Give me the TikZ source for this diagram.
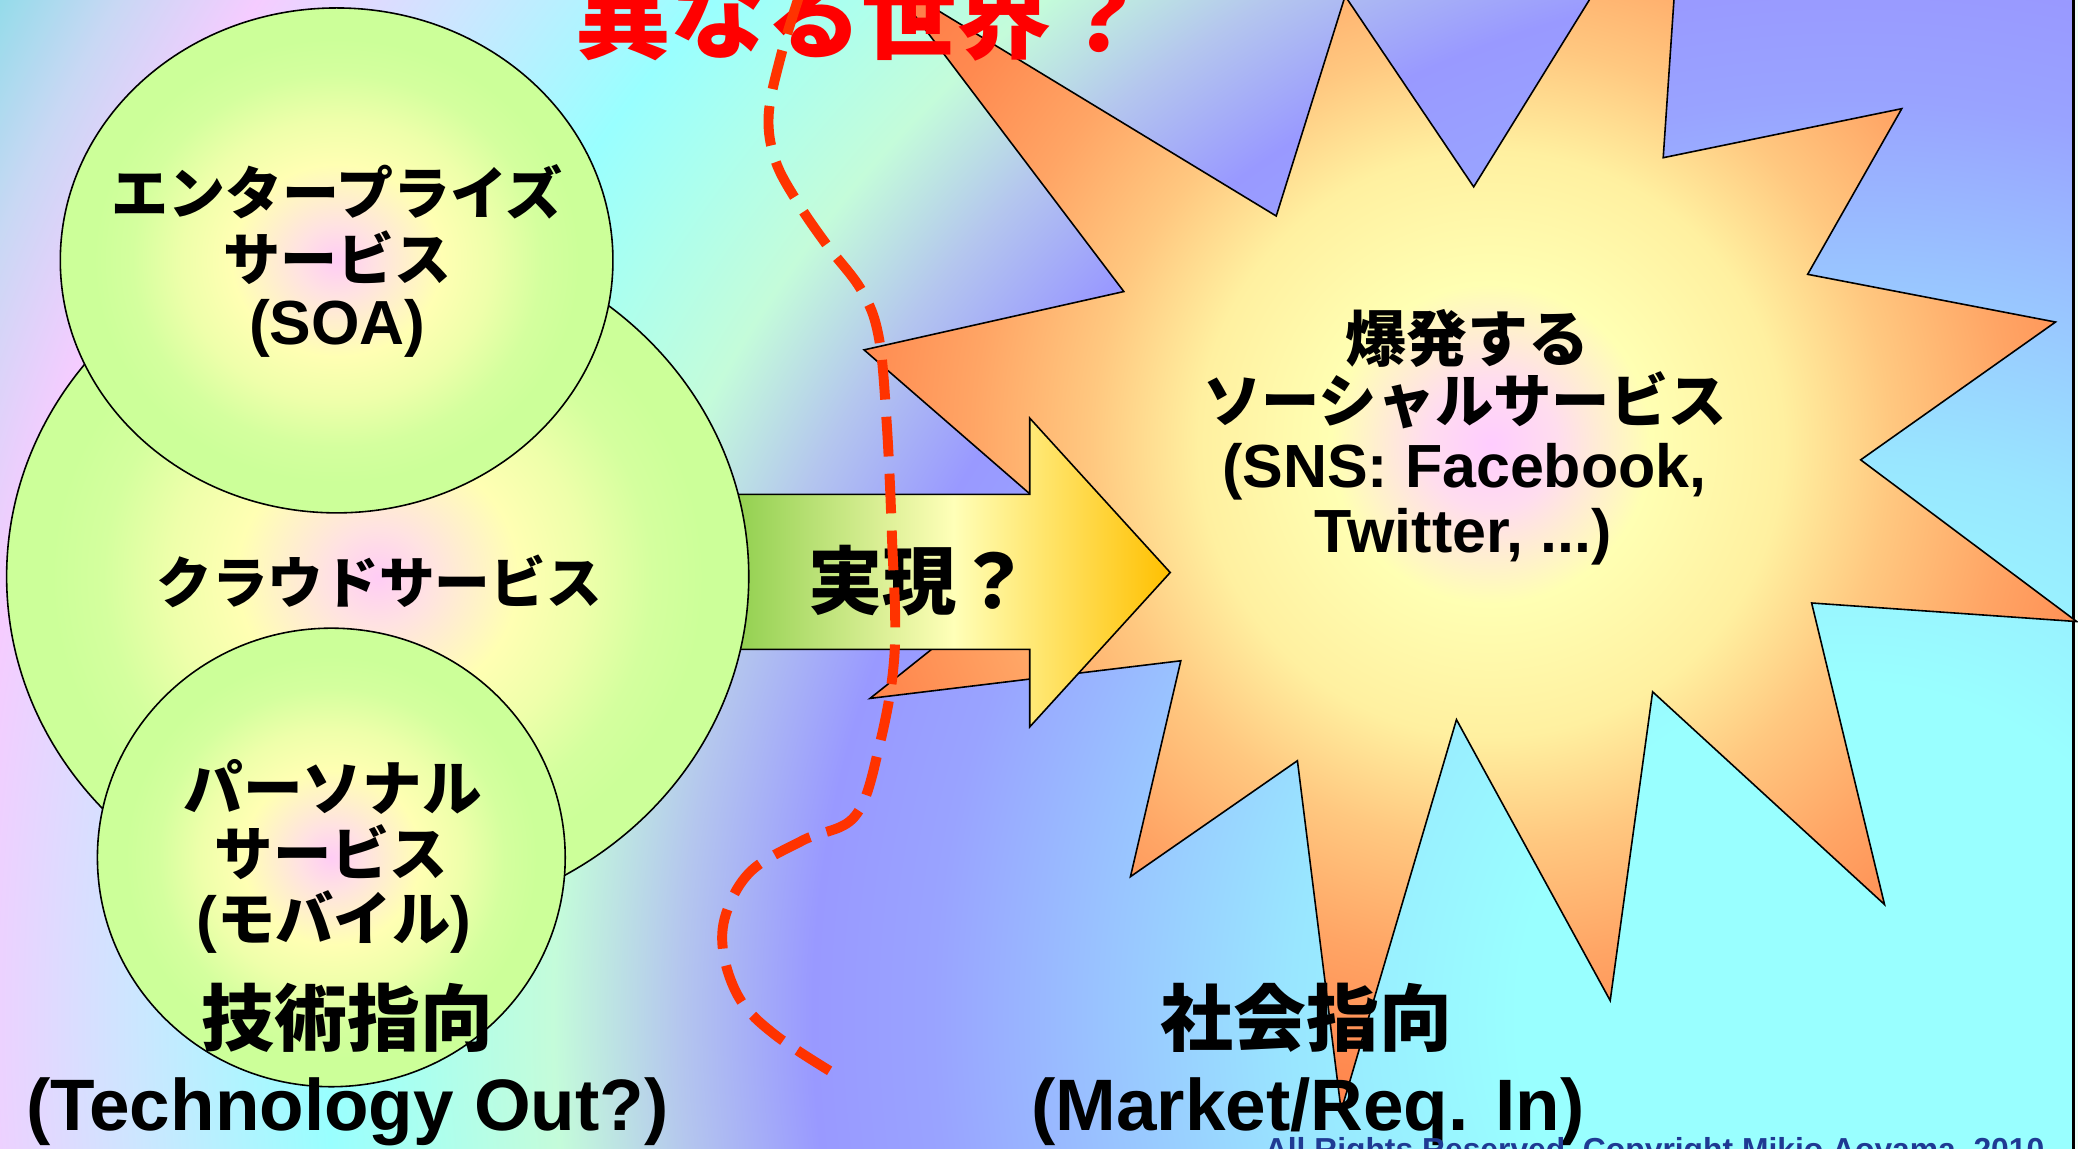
\documentclass[tikz,border=0pt]{standalone}
\usepackage{fontspec}
\setmainfont{Liberation Sans}
\newfontfamily\jp{Noto Sans CJK JP}

\definecolor{bgA}{HTML}{99FFFF}
\definecolor{bgB}{HTML}{99E6FF}
\definecolor{bgC}{HTML}{99C4FF}
\definecolor{bgD}{HTML}{99A3FF}
\definecolor{bgE}{HTML}{9999FF}
\definecolor{bgF}{HTML}{B4C6EE}
\definecolor{bgG}{HTML}{C4FCDA}
\definecolor{bgH}{HTML}{ACFFEE}
\definecolor{bgI}{HTML}{99FFFF}
\definecolor{bgJ}{HTML}{CCE6FF}
\definecolor{bgK}{HTML}{F5CCFF}
\definecolor{bgL}{HTML}{C8D8F4}
\definecolor{bgM}{HTML}{8CDCE8}

\definecolor{stA}{HTML}{FFCCFF}
\definecolor{stB}{HTML}{FFDDEE}
\definecolor{stC}{HTML}{FFFFB3}
\definecolor{stD}{HTML}{FFF0A0}
\definecolor{stE}{HTML}{FFC880}
\definecolor{stF}{HTML}{FFA565}
\definecolor{stG}{HTML}{FF8A50}
\definecolor{stH}{HTML}{FF7040}

\definecolor{elA}{HTML}{FFCCF5}
\definecolor{elB}{HTML}{FFE2E2}
\definecolor{elC}{HTML}{FFFFB3}
\definecolor{elD}{HTML}{EEFFAA}
\definecolor{elE}{HTML}{D4FF9E}
\definecolor{elF}{HTML}{CCFF99}

\definecolor{arG}{HTML}{92D050}
\definecolor{arY}{HTML}{FFFFB8}
\definecolor{arO}{HTML}{FFC000}
\definecolor{dashred}{HTML}{FF3300}
\definecolor{titlered}{HTML}{FF0000}
\definecolor{copyblue}{HTML}{1F3A93}
\definecolor{edgewhite}{HTML}{F2FFF8}

\pgfdeclareradialshading{bgshade}{\pgfpoint{0bp}{0bp}}{%
 color(0bp)=(bgA); color(250bp)=(bgA); color(420bp)=(bgB); color(560bp)=(bgC);
 color(690bp)=(bgD); color(780bp)=(bgE); color(880bp)=(bgF); color(975bp)=(bgG);
 color(1070bp)=(bgH); color(1147bp)=(bgI); color(1290bp)=(bgJ); color(1420bp)=(bgK);
 color(1510bp)=(bgL); color(1600bp)=(bgM)}

\pgfdeclareradialshading{starshade}{\pgfpoint{0bp}{0bp}}{%
 color(0bp)=(stA); color(50bp)=(stB); color(120bp)=(stC); color(220bp)=(stD);
 color(300bp)=(stE); color(390bp)=(stF); color(480bp)=(stG); color(620bp)=(stH)}

\pgfdeclareradialshading{ellshade}{\pgfpoint{0bp}{0bp}}{%
 color(0bp)=(elA); color(3.5bp)=(elB); color(9.5bp)=(elC); color(14bp)=(elD);
 color(18.5bp)=(elE); color(22bp)=(elF); color(50bp)=(elF)}

\newcommand\jpt[1]{{\jp\bfseries #1}}

\tikzset{
  starpath/.style={insert path={(652,264) -- (812,403) -- (656.5,527) -- (891,498.6)
    -- (853,661.5) -- (979,574) -- (1012,838) -- (1099,543) -- (1215,755)
    -- (1247,522) -- (1422,682.5) -- (1367,455) -- (1567,469) -- (1404,347)
    -- (1551,243) -- (1364,207) -- (1435,82) -- (1255,119) -- (1271,-116)
    -- (1112,141) -- (1015,-3) -- (963,163) -- (670,-15) -- (848,220) -- cycle}},
  outline/.style={draw=black, line width=1.2pt},
  ellipsebox/.style={shading=ellshade, outline},
  jlabel/.style={inner sep=0, anchor=base},
  redcurve/.style={draw=dashred, line width=7.5pt, dash pattern=on 30pt off 13pt}
}

\begin{document}
\begin{tikzpicture}[x=1pt, y=-1pt]
\useasboundingbox (0,0) rectangle (1568,867);
\clip (0,0) rectangle (1568,867);

% background
\node[inner sep=0, outer sep=0] (bg) at (1396,767) {\pgfuseshading{bgshade}};
\fill[edgewhite] (1564,0) rectangle (1568,867);
\draw[black, line width=2.5pt] (1564.5,0) -- (1564.5,867);

% explosion star
\begin{scope}
  \clip[starpath];
  \node[inner sep=0, outer sep=0] (starfill) at (1125,335) {\pgfuseshading{starshade}};
\end{scope}
\path[outline, starpath];

% arrow
\shadedraw[left color=arG, right color=arO, middle color=arY, outline]
  (556,373) -- (777,373) -- (777,315.5) -- (883,432) -- (777,548.5) -- (777,490) -- (556,490) -- cycle;

% ellipses
\shadedraw[ellipsebox] (285,435) ellipse [x radius=280, y radius=261];
\shadedraw[ellipsebox] (254,196.5) ellipse [x radius=208.5, y radius=190.5];
\shadedraw[ellipsebox] (250,647) ellipse [x radius=176.5, y radius=173];

% texts
\node[jlabel, text=titlered, font={\jp\bfseries\fontsize{72}{80}\selectfont}] (title) at (650,39) {異なる世界？};

\node[jlabel, font={\jp\bfseries\fontsize{43}{50}\selectfont}] (soa1) at (254.5,162) {エンタープライズ};
\node[jlabel, font={\jp\bfseries\fontsize{43}{50}\selectfont}] (soa2) at (254.5,211.5) {サービス};
\node[jlabel, font={\bfseries\fontsize{47}{50}\selectfont}] (soa3) at (254.5,260) {(SOA)};

\node[jlabel, font={\jp\bfseries\fontsize{42}{50}\selectfont}] (cloud) at (286,455.5) {クラウドサービス};

\node[jlabel, font={\jp\bfseries\fontsize{45}{50}\selectfont}] (per1) at (251,611.5) {パーソナル};
\node[jlabel, font={\jp\bfseries\fontsize{44}{50}\selectfont}] (per2) at (250,660.5) {サービス};
\node[jlabel, font={\bfseries\fontsize{47}{50}\selectfont}] (per3) at (252,710) {(\jpt{\fontsize{44}{50}\selectfont モバイル})};

\node[jlabel, font={\jp\bfseries\fontsize{55}{60}\selectfont}] (tech1) at (262,789) {技術指向};
\node[jlabel, font={\bfseries\fontsize{55}{60}\selectfont}] (tech2) at (262,853) {(Technology Out?)};

\node[jlabel, font={\jp\bfseries\fontsize{55}{60}\selectfont}] (soc1) at (986,789) {社会指向};
\node[jlabel, font={\bfseries\fontsize{55}{60}\selectfont}] (soc2) at (987,853) {(Market/Req. In)};

\node[jlabel, font={\jp\bfseries\fontsize{56}{60}\selectfont}] (arrowtext) at (694,459) {実現？};

\node[jlabel, font={\jp\bfseries\fontsize{46}{50}\selectfont}] (star1) at (1107,273) {爆発する};
\node[jlabel, font={\jp\bfseries\fontsize{44}{50}\selectfont}] (star2) at (1105.5,319) {ソーシャルサービス};
\node[jlabel, font={\bfseries\fontsize{46}{50}\selectfont}] (star3) at (1105,368) {(SNS: Facebook,};
\node[jlabel, font={\bfseries\fontsize{46}{50}\selectfont}] (star4) at (1104,417) {Twitter, ...)};

\node[jlabel, text=copyblue, font={\bfseries\fontsize{24}{28}\selectfont}] (copy) at (1248.5,876) {All Rights Reserved, Copyright Mikio Aoyama, 2010};

% dashed boundary curve
\draw[redcurve] plot[smooth, tension=0.6] coordinates {
  (603,-3) (589,43) (580,87) (585,121) (602,153) (624,185) (650,219) (663,254)
  (669,318) (673,404) (675,493) (663,565) (645,616) (606,634) (567,657)
  (548,689) (546,720) (559,755) (585,781) (626,808)};
\end{tikzpicture}
\end{document}
